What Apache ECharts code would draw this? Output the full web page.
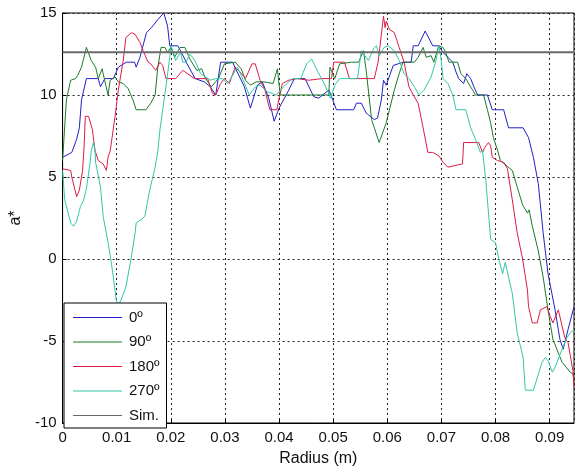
<!DOCTYPE html>
<html>
<head>
<meta charset="utf-8">
<script src="https://cdn.jsdelivr.net/npm/echarts@6/dist/echarts.min.js"></script>
<style>html,body{margin:0;padding:0;background:#fff}#c{width:575px;height:472px}</style>
</head>
<body>
<div id="c"></div>
<script>
const seriesNames = ['0º', '90º', '180º', '270º', 'Sim.'];
const xTicks = [0, 0.01, 0.02, 0.03, 0.04, 0.05, 0.06, 0.07, 0.08, 0.09];
const yTicks = [-10, -5, 0, 5, 10, 15];

const deg0 = [[0,6.2],[0.0017,6.5],[0.0026,7.3],[0.0031,8.0],[0.0035,9.7],[0.0044,11.0],[0.0066,11.0],[0.0070,10.5],[0.0078,11.0],[0.0094,11.0],[0.0103,11.7],[0.0118,12.0],[0.0133,12.0],[0.0136,11.7],[0.0143,12.3],[0.0155,13.8],[0.0164,14.1],[0.0176,14.6],[0.0187,15.0],[0.0194,14.2],[0.0198,13.0],[0.0213,13.0],[0.0218,12.7],[0.0230,11.9],[0.0245,11.0],[0.0262,10.8],[0.0273,10.5],[0.0283,10.0],[0.0292,12.0],[0.0314,12.0],[0.0336,10.5],[0.0347,9.2],[0.0360,10.6],[0.0369,10.8],[0.0381,9.8],[0.0391,8.4],[0.0400,9.2],[0.0418,10.3],[0.0428,11.0],[0.0448,11.0],[0.0464,9.9],[0.0473,9.8],[0.0492,10.3],[0.0497,9.9],[0.0506,9.1],[0.0538,9.1],[0.0543,9.5],[0.0552,9.5],[0.0561,8.9],[0.0576,8.5],[0.0582,8.6],[0.0589,9.7],[0.0593,10.9],[0.0598,10.6],[0.0611,11.8],[0.0629,12.0],[0.0644,12.0],[0.0648,13.0],[0.0657,13.0],[0.0670,13.9],[0.0684,13.0],[0.0695,13.0],[0.0703,12.6],[0.0721,12.0],[0.0727,11.4],[0.0732,11.0],[0.0741,10.7],[0.0747,11.3],[0.0754,11.0],[0.0760,10.5],[0.0767,10.0],[0.0785,10.0],[0.0794,9.1],[0.0815,9.1],[0.0824,8.0],[0.0851,8.0],[0.0861,7.4],[0.0870,6.2],[0.0879,4.6],[0.0888,1.6],[0.0897,-0.9],[0.0910,-3.1],[0.0919,-4.9],[0.0925,-5.5],[0.0934,-4.3],[0.0945,-2.9]];

const deg90 = [[0,6.0],[0.0007,9.7],[0.0015,10.9],[0.0024,11.0],[0.0028,11.2],[0.0035,11.7],[0.0044,12.9],[0.0046,12.8],[0.0053,12.1],[0.0061,11.7],[0.0066,11.0],[0.0073,11.6],[0.0075,11.3],[0.0084,10.0],[0.0088,10.9],[0.0097,11.1],[0.0103,10.8],[0.0112,10.7],[0.0121,10.4],[0.0130,9.7],[0.0136,9.1],[0.0154,9.1],[0.0163,9.5],[0.0171,10.0],[0.0176,11.7],[0.0182,12.9],[0.0189,12.9],[0.0194,12.6],[0.0200,12.9],[0.0207,12.3],[0.0217,12.9],[0.0226,12.9],[0.0235,12.2],[0.0248,11.5],[0.0257,11.6],[0.0264,11.0],[0.0275,10.5],[0.0288,11.0],[0.0299,11.9],[0.0319,12.0],[0.0330,11.6],[0.0338,10.9],[0.0347,10.6],[0.0358,10.8],[0.0372,10.8],[0.0389,10.7],[0.0397,11.6],[0.0402,10.0],[0.0492,10.0],[0.0494,11.7],[0.0503,11.0],[0.0512,11.9],[0.0534,12.0],[0.0547,12.0],[0.0556,12.7],[0.0561,11.5],[0.0571,8.5],[0.0585,7.1],[0.0598,8.3],[0.0607,9.5],[0.0613,10.3],[0.0622,11.3],[0.0629,12.0],[0.0650,12.0],[0.0657,12.3],[0.0666,12.9],[0.0672,12.3],[0.0681,12.4],[0.0686,12.0],[0.0695,13.0],[0.0703,12.9],[0.0708,12.6],[0.0714,12.0],[0.0730,12.0],[0.0736,11.3],[0.0745,11.0],[0.0754,10.5],[0.0763,10.0],[0.0778,10.0],[0.0785,9.1],[0.0791,8.3],[0.0796,7.4],[0.0804,6.6],[0.0809,6.0],[0.0831,5.4],[0.0840,4.4],[0.0850,3.3],[0.0859,2.8],[0.0862,3.0],[0.0868,2.0],[0.0879,0.5],[0.0888,-1.1],[0.0897,-3.1],[0.0906,-4.9],[0.0923,-6.3],[0.0938,-6.9],[0.0943,-7.0],[0.0945,-7.4]];

const deg180 = [[0,5.5],[0.0015,5.4],[0.0017,5.0],[0.0026,3.8],[0.0031,4.2],[0.0037,5.4],[0.0040,7.0],[0.0042,8.7],[0.0048,8.7],[0.0055,7.9],[0.0060,6.6],[0.0066,6.0],[0.0075,5.8],[0.0081,5.4],[0.0084,6.2],[0.0088,6.6],[0.0097,8.7],[0.0103,10.3],[0.0112,12.1],[0.0117,13.5],[0.0127,13.8],[0.0134,13.7],[0.0143,13.2],[0.0149,12.7],[0.0158,12.0],[0.0163,11.9],[0.0172,11.5],[0.0180,12.0],[0.0185,11.8],[0.0191,11.0],[0.0209,11.0],[0.0222,11.5],[0.0244,11.0],[0.0268,11.0],[0.0277,10.1],[0.0283,10.0],[0.0292,10.7],[0.0299,11.0],[0.0308,10.7],[0.0319,11.7],[0.0328,11.4],[0.0338,11.0],[0.0350,11.9],[0.0356,11.9],[0.0365,10.9],[0.0374,10.3],[0.0383,9.1],[0.0396,9.1],[0.0400,9.8],[0.0406,10.7],[0.0418,10.9],[0.0433,11.0],[0.0455,10.9],[0.0479,11.0],[0.0497,11.0],[0.0501,12.0],[0.0521,12.0],[0.0530,11.0],[0.0576,11.0],[0.0583,12.0],[0.0593,14.8],[0.0596,14.1],[0.0598,14.5],[0.0604,14.0],[0.0613,13.8],[0.0622,12.9],[0.0631,12.0],[0.0640,10.5],[0.0648,10.0],[0.0657,9.5],[0.0662,8.7],[0.0668,7.7],[0.0675,6.5],[0.0684,6.5],[0.0695,6.3],[0.0703,5.9],[0.0712,5.6],[0.0739,5.8],[0.0741,7.1],[0.0769,7.1],[0.0776,6.5],[0.0780,6.8],[0.0787,7.1],[0.0791,6.9],[0.0794,6.2],[0.0804,6.0],[0.0815,5.9],[0.0822,5.5],[0.0831,3.6],[0.0840,1.6],[0.0850,0.0],[0.0859,-1.9],[0.0861,-2.9],[0.0868,-3.9],[0.0877,-3.9],[0.0883,-3.1],[0.0895,-2.9],[0.0901,-3.5],[0.0906,-3.9],[0.0916,-3.1],[0.0928,-4.8],[0.0934,-5.1],[0.0943,-6.8],[0.0945,-7.8]];

const deg270 = [[0,5.4],[0.0004,3.6],[0.0015,2.2],[0.0020,2.0],[0.0026,2.3],[0.0033,3.2],[0.0039,3.6],[0.0044,4.3],[0.0051,5.9],[0.0053,6.6],[0.0057,7.1],[0.0060,6.6],[0.0061,5.9],[0.0070,4.4],[0.0075,2.6],[0.0084,1.0],[0.0090,-0.2],[0.0097,-1.9],[0.0099,-2.5],[0.0103,-2.8],[0.0108,-2.5],[0.0117,-1.7],[0.0127,0.1],[0.0134,1.6],[0.0136,2.2],[0.0145,2.4],[0.0152,2.6],[0.0161,4.2],[0.0171,5.6],[0.0176,6.6],[0.0180,7.9],[0.0185,9.1],[0.0191,10.5],[0.0198,12.3],[0.0200,13.0],[0.0205,12.6],[0.0209,12.1],[0.0218,12.6],[0.0222,12.0],[0.0228,12.0],[0.0235,12.5],[0.0240,12.3],[0.0246,12.0],[0.0255,11.3],[0.0264,11.1],[0.0273,10.9],[0.0283,11.0],[0.0295,11.0],[0.0305,10.7],[0.0323,11.7],[0.0330,11.2],[0.0345,10.0],[0.0356,10.5],[0.0365,10.6],[0.0378,10.2],[0.0395,10.0],[0.0411,10.6],[0.0425,11.0],[0.0440,11.0],[0.0451,11.9],[0.0460,12.2],[0.0472,11.4],[0.0485,10.6],[0.0495,9.8],[0.0503,10.6],[0.0512,11.0],[0.0545,11.0],[0.0552,12.7],[0.0565,12.1],[0.0576,12.9],[0.0580,13.0],[0.0585,12.4],[0.0594,12.9],[0.0602,13.0],[0.0613,12.7],[0.0622,12.1],[0.0631,11.3],[0.0640,11.0],[0.0650,10.5],[0.0659,10.0],[0.0668,10.3],[0.0681,11.1],[0.0690,12.1],[0.0695,13.0],[0.0699,12.3],[0.0703,11.0],[0.0712,10.7],[0.0721,10.0],[0.0727,9.1],[0.0745,9.1],[0.0754,8.0],[0.0763,7.3],[0.0772,6.5],[0.0776,6.6],[0.0782,4.8],[0.0787,2.8],[0.0791,1.2],[0.0800,1.0],[0.0806,0.0],[0.0813,-0.9],[0.0818,-0.2],[0.0824,-1.1],[0.0831,-2.1],[0.0840,-4.5],[0.0851,-6.0],[0.0855,-8.0],[0.0870,-8.0],[0.0886,-6.3],[0.0892,-6.0],[0.0897,-6.2],[0.0905,-6.9],[0.0910,-6.6],[0.0923,-5.5],[0.0932,-4.8],[0.0938,-4.5],[0.0945,-4.3]];

const sim = [[0,12.6],[0.0945,12.6]];

const colors = ['#2020c8', '#1a7a2a', '#dc1c44', '#30c8a8', '#6a6a6a'];
const font = "'Liberation Sans', Arial, Helvetica, sans-serif";

const chart = echarts.init(document.getElementById('c'), null, {renderer: 'canvas'});
const allData = [deg0, deg90, deg180, deg270, sim];
const series = allData.map((d, i) => ({
  name: seriesNames[i],
  type: 'line',
  data: d,
  symbol: 'none',
  showSymbol: false,
  smooth: false,
  lineStyle: {color: colors[i], width: i === 4 ? 2 : 1},
  itemStyle: {color: colors[i]},
  silent: true,
  z: 2 + i
}));

chart.setOption({
  animation: false,
  backgroundColor: '#fff',
  grid: {left: 59, right: 1, top: 13, bottom: 49, show: true, borderColor: '#000', borderWidth: 1, backgroundColor: 'transparent'},
  legend: {
    orient: 'vertical', left: 64, top: 303,
    backgroundColor: '#fff', borderColor: '#000', borderWidth: 1,
    padding: [7, 7, 5, 9], itemWidth: 49, itemHeight: 14, itemGap: 9.5,
    textStyle: {fontFamily: font, fontSize: 15, color: '#111', padding: [0, 0, 0, 2]},
    data: seriesNames.map((n, i) => ({name: n, icon: 'path://M0,0L100,0L100,2L0,2Z'})),
    selectedMode: false, z: 20
  },
  xAxis: {
    type: 'value', min: 0, max: 0.0945, interval: 0.01,
    name: 'Radius (m)', nameLocation: 'middle', nameGap: 28,
    nameTextStyle: {fontFamily: font, fontSize: 16, color: '#111'},
    axisLine: {show: true, onZero: false, lineStyle: {color: '#000', width: 1}},
    axisTick: {show: true, inside: true, length: 4, lineStyle: {color: '#000'}},
    axisLabel: {fontFamily: font, fontSize: 15, color: '#111', margin: 7, showMaxLabel: false,
      formatter: v => String(+v.toFixed(2))},
    splitLine: {show: true, lineStyle: {color: '#222', type: [2, 3], width: 1}}
  },
  yAxis: {
    type: 'value', min: -10, max: 15, interval: 5,
    name: 'a*', nameLocation: 'middle', nameGap: 36, nameRotate: 90,
    nameTextStyle: {fontFamily: font, fontSize: 16, color: '#111'},
    axisLine: {show: true, onZero: false, lineStyle: {color: '#000', width: 1}},
    axisTick: {show: true, inside: true, length: 4, lineStyle: {color: '#000'}},
    axisLabel: {fontFamily: font, fontSize: 15, color: '#111', margin: 6},
    splitLine: {show: true, lineStyle: {color: '#222', type: [2, 3], width: 1}}
  },
  series: series
});
</script>
</body>
</html>
